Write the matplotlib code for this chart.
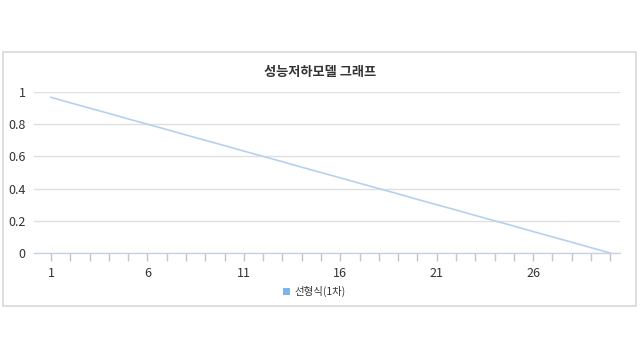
import matplotlib
matplotlib.use("Agg")
import matplotlib.pyplot as plt
from matplotlib.patches import Rectangle

plt.rcParams['font.family'] = ['Noto Sans CJK KR', 'DejaVu Sans']

title = "성능저하모델 그래프"
series_name = "선형식(1차)"
x_values = list(range(1, 31))
y_values = [0.967, 0.933, 0.900, 0.867, 0.833, 0.800, 0.767, 0.733, 0.700, 0.667,
            0.633, 0.600, 0.567, 0.533, 0.500, 0.467, 0.433, 0.400, 0.367, 0.333,
            0.300, 0.267, 0.233, 0.200, 0.167, 0.133, 0.100, 0.067, 0.033, 0.000]
x_tick_labels = [1, 6, 11, 16, 21, 26]
y_ticks = [0, 0.2, 0.4, 0.6, 0.8, 1]
y_tick_labels = ["0", "0.2", "0.4", "0.6", "0.8", "1"]

W, H = 640, 360
fig = plt.figure(figsize=(6.4, 3.6), dpi=100)
fig.patch.set_facecolor("white")

# outer border box
fig.patches.append(Rectangle((3 / W, 1 - 306 / H), (636 - 3) / W, (306 - 52) / H,
                             transform=fig.transFigure, fill=False,
                             edgecolor="#d8d8d8", linewidth=1.2))

ax = fig.add_axes([34 / W, 1 - 253 / H, (620 - 34) / W, (253 - 92) / H])
ax.set_facecolor("none")
line_color = "#b7d1ec"
ax.plot(x_values, y_values, color=line_color, linewidth=1.2, zorder=3)

ax.set_xlim(0.12, 30.5)
ax.set_ylim(0, 1)
ax.set_yticks(y_ticks)
ax.set_yticklabels(y_tick_labels)
ax.set_xticks(x_values, minor=False)
ax.set_xticklabels([str(v) if v in x_tick_labels else "" for v in x_values])

for s in ["top", "right", "left"]:
    ax.spines[s].set_visible(False)
ax.spines["bottom"].set_color("#c6d2e6")
ax.spines["bottom"].set_linewidth(1)
ax.grid(axis="y", color="#e0e0e0", linewidth=1)
ax.set_axisbelow(True)

ax.tick_params(axis="y", length=0, pad=6, labelsize=9, labelcolor="#333333")
ax.tick_params(axis="x", length=6, width=1, color="#bcc6d6", pad=4,
               labelsize=9, labelcolor="#333333")

fig.text(320 / W, 1 - 72 / H, title, ha="center", va="center",
         fontsize=9.5, fontweight="bold", color="#333333")

# legend
fig.patches.append(Rectangle((283 / W, 1 - 295 / H), 7 / W, 7 / H,
                             transform=fig.transFigure, facecolor="#7cb5ec",
                             edgecolor="none"))
fig.text(294 / W, 1 - 291 / H, series_name, ha="left", va="center",
         fontsize=7.5, color="#333333")

fig.savefig("out.png", dpi=100, facecolor="white")
